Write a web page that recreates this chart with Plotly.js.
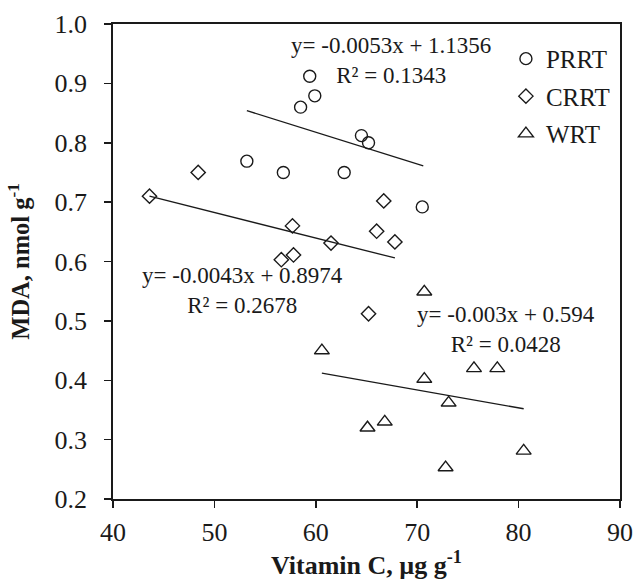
<!DOCTYPE html>
<html>
<head>
<meta charset="utf-8">
<script src="https://cdn.plot.ly/plotly-3.0.1.min.js"></script>
<style>html,body{margin:0;padding:0;background:#fff;}#chart{width:635px;height:583px;}</style>
</head>
<body>
<div id="chart"></div>
<script>
// PRRT (circles)
const prrtX = [59.4, 59.9, 58.5, 53.2, 56.8, 64.5, 65.2, 62.8, 70.5];
const prrtY = [0.912, 0.879, 0.860, 0.769, 0.750, 0.812, 0.800, 0.750, 0.692];
// CRRT (diamonds)
const crrtX = [43.6, 48.4, 57.7, 56.6, 57.8, 66.7, 66.0, 67.8, 61.5, 65.2];
const crrtY = [0.710, 0.750, 0.660, 0.603, 0.611, 0.702, 0.651, 0.633, 0.631, 0.512];
// WRT (triangles)
const wrtX = [70.7, 60.6, 70.7, 75.6, 77.9, 73.1, 65.1, 66.8, 72.8, 80.5];
const wrtY = [0.549, 0.450, 0.402, 0.420, 0.420, 0.362, 0.320, 0.330, 0.253, 0.281];
// Linear trendlines (end points)
const prrtFitX = [53.2, 70.6];
const prrtFitY = [0.854, 0.761];
const crrtFitX = [43.6, 67.8];
const crrtFitY = [0.710, 0.606];
const wrtFitX = [60.6, 80.5];
const wrtFitY = [0.412, 0.352];
// Labels
const seriesNames = ['PRRT', 'CRRT', 'WRT'];
const eqTexts = ['y= -0.0053x + 1.1356<br>R² = 0.1343',
                 'y= -0.0043x + 0.8974<br>R² = 0.2678',
                 'y= -0.003x + 0.594<br>R² = 0.0428'];
const eqPosX = [67.4, 52.8, 78.8];
const eqPosY = [0.938, 0.551, 0.485];
const xTickVals = [40, 50, 60, 70, 80, 90];
const yTickVals = [0.2, 0.3, 0.4, 0.5, 0.6, 0.7, 0.8, 0.9, 1.0];

const serif = 'Liberation Serif, Times New Roman, serif';
const black = '#1a1a1a';

function markerTrace(x, y, name, symbol, size) {
  return {x: x, y: y, name: name, type: 'scatter', mode: 'markers', legendgroup: name,
    marker: {symbol: symbol, size: size, color: black, line: {color: black, width: 1.4}}};
}
function fitTrace(x, y) {
  return {x: x, y: y, type: 'scatter', mode: 'lines', showlegend: false, hoverinfo: 'skip',
    line: {color: black, width: 1.3}};
}

const data = [
  markerTrace(prrtX, prrtY, seriesNames[0], 'circle-open', 12),
  markerTrace(crrtX, crrtY, seriesNames[1], 'diamond-open', 11),
  markerTrace(wrtX, wrtY, seriesNames[2], 'triangle-up-open', 13),
  fitTrace(prrtFitX, prrtFitY),
  fitTrace(crrtFitX, crrtFitY),
  fitTrace(wrtFitX, wrtFitY)
];

const annotations = eqTexts.map((t, i) => ({
  x: eqPosX[i], y: eqPosY[i], xref: 'x', yref: 'y', text: t, showarrow: false,
  xanchor: 'center', yanchor: 'middle', align: 'center',
  font: {family: serif, size: 23, color: black}
}));

const layout = {
  width: 635, height: 583,
  margin: {l: 113, r: 15, t: 24, b: 84},
  paper_bgcolor: '#fff', plot_bgcolor: '#fff',
  showlegend: true,
  legend: {x: 0.775, y: 0.975, xanchor: 'left', yanchor: 'top', bgcolor: 'rgba(0,0,0,0)',
    font: {family: serif, size: 25, color: black}, traceorder: 'grouped', tracegroupgap: 2,
    itemwidth: 30},
  xaxis: {range: [40, 90], tickvals: xTickVals, ticks: 'outside', ticklen: 7, tickwidth: 1.5,
    tickcolor: black, showline: true, linecolor: black, linewidth: 1.8, mirror: true,
    showgrid: false, zeroline: false, ticklabelstandoff: 2,
    tickfont: {family: serif, size: 26, color: black},
    title: {text: '<b>Vitamin C, µg g<sup>-1</sup></b>', font: {family: serif, size: 26, color: black}, standoff: 10}},
  yaxis: {range: [0.2, 1.0], tickvals: yTickVals, tickformat: '.1f', ticks: 'outside', ticklen: 7, tickwidth: 1.5,
    tickcolor: black, showline: true, linecolor: black, linewidth: 1.8, mirror: true,
    showgrid: false, zeroline: false, ticklabelstandoff: 12,
    tickfont: {family: serif, size: 26, color: black},
    title: {text: '<b>MDA, nmol g<sup>-1</sup></b>', font: {family: serif, size: 24.5, color: black}, standoff: 18}},
  annotations: annotations
};

Plotly.newPlot('chart', data, layout, {displayModeBar: false, staticPlot: true});
</script>
</body>
</html>
